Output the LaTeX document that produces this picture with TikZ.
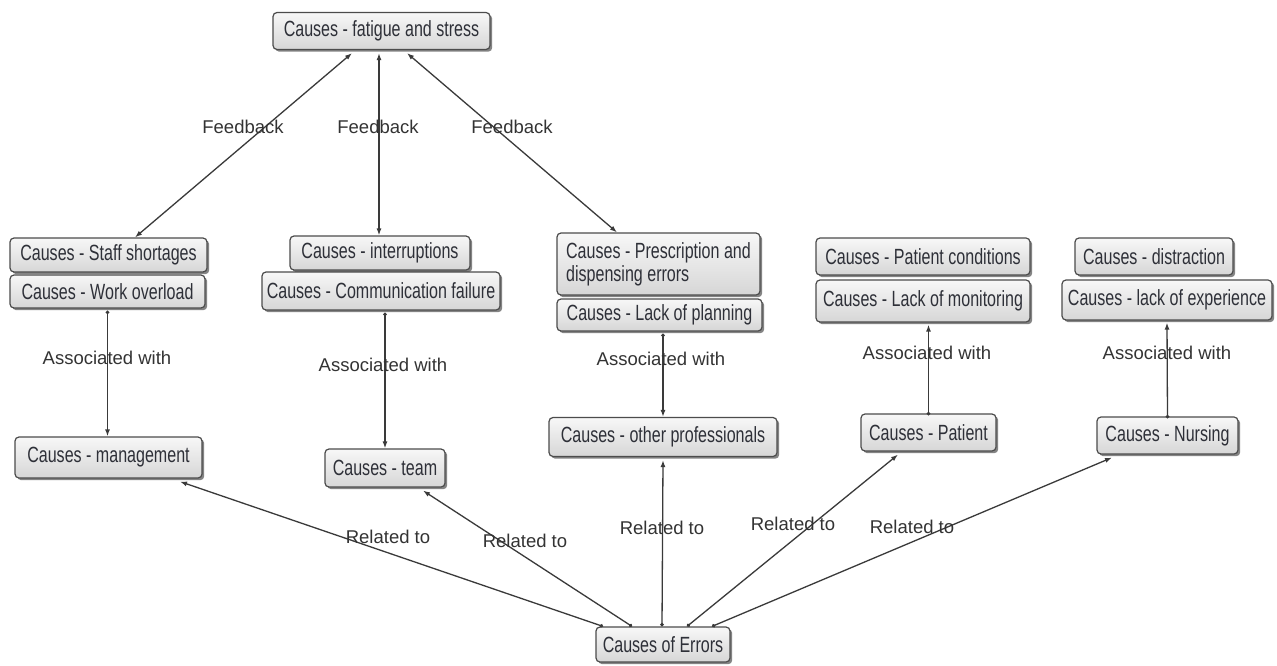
\documentclass[tikz,border=0pt]{standalone}
\usepackage{fontspec}
\setmainfont{Liberation Sans}[FakeStretch=0.73]
\newfontfamily\lblfont{Liberation Sans}
\usetikzlibrary{arrows.meta,shadows,calc}
\definecolor{boxtext}{HTML}{2E3038}
\definecolor{linecol}{HTML}{3A3A3A}
\definecolor{lbltext}{HTML}{333333}
\tikzset{
  cbox/.style={draw=black!70, line width=1.2pt, rounded corners=4pt,
    top color=black!3, bottom color=black!16,
    drop shadow={shadow xshift=2.2pt, shadow yshift=-2.2pt, fill=black!60, opacity=0.8},
    text=boxtext, inner sep=4pt,
    font=\fontsize{22}{23}\selectfont},
  lbl/.style={text=lbltext, font=\lblfont\fontsize{18.5}{20}\selectfont, inner sep=0pt},
  fb/.style={draw=linecol, line width=1.3pt, {Latex[length=7pt,width=5pt]}-{Latex[length=7pt,width=5pt]}},
  assoc/.style={draw=linecol, line width=1.3pt, {Circle[length=3.5pt]}-{Latex[length=7pt,width=5pt]}},
}
\begin{document}
\begin{tikzpicture}[x=1pt,y=-1pt]
\useasboundingbox[fill=white] (0,0) rectangle (1277,666);
% boxes
\node[cbox, minimum width=217pt, minimum height=37pt] (fat) at (381.5,31) {Causes - fatigue and stress};
\node[cbox, minimum width=197pt, minimum height=34pt] (staff) at (108.5,255) {Causes - Staff shortages};
\node[cbox, minimum width=195pt, minimum height=33pt] (work) at (107.5,291.5) {Causes - Work overload};
\node[cbox, minimum width=180pt, minimum height=34pt] (inter) at (380,253) {Causes - interruptions};
\node[cbox, minimum width=238pt, minimum height=38pt] (comm) at (381,291) {Causes - Communication failure};
\node[cbox, minimum width=203pt, minimum height=62pt, align=left] (presc) at (658.5,264) {Causes - Prescription and\\dispensing errors};
\node[cbox, minimum width=205pt, minimum height=32pt] (plan) at (659.5,315) {Causes - Lack of planning};
\node[cbox, minimum width=214pt, minimum height=37pt] (pcond) at (923,256.5) {Causes - Patient conditions};
\node[cbox, minimum width=214pt, minimum height=42pt] (mon) at (923,301) {Causes - Lack of monitoring};
\node[cbox, minimum width=158pt, minimum height=37pt] (dist) at (1154,256.5) {Causes - distraction};
\node[cbox, minimum width=210pt, minimum height=40pt] (exp) at (1167,300) {Causes - lack of experience};
\node[cbox, minimum width=187pt, minimum height=41pt] (mgmt) at (108.5,457.5) {Causes - management};
\node[cbox, minimum width=120pt, minimum height=38pt] (team) at (385,468) {Causes - team};
\node[cbox, minimum width=228pt, minimum height=39pt] (other) at (663,437) {Causes - other professionals};
\node[cbox, minimum width=135pt, minimum height=37pt] (patient) at (928.5,432.5) {Causes - Patient};
\node[cbox, minimum width=141pt, minimum height=37pt] (nurs) at (1167.5,435.5) {Causes - Nursing};
\node[cbox, minimum width=134pt, minimum height=35pt] (err) at (663,644.5) {Causes of Errors};
% feedback
\draw[fb] ([xshift=-29.5pt,yshift=-3pt]fat.south) -- ([xshift=26.5pt]staff.north);
\draw[fb] ([xshift=-2.5pt,yshift=-3pt]fat.south) -- ([xshift=-1pt]inter.north);
\draw[fb] ([xshift=25.5pt,yshift=-3pt]fat.south) -- ([xshift=-41.5pt]presc.north);
\node[lbl] (fb1) at (243,127) {Feedback};
\node[lbl] (fb2) at (378,127) {Feedback};
\node[lbl] (fb3) at (512,127) {Feedback};
% associated with
\draw[assoc] ([yshift=-2pt]work.south) -- (work.south |- mgmt.north);
\draw[assoc] ([xshift=4pt,yshift=-2pt]comm.south) -- (team.north);
\draw[assoc] ([yshift=-2pt]plan.south -| other.north) -- (other.north);
\draw[assoc] ([yshift=-2pt]patient.north) -- ([yshift=-2pt]patient.north |- mon.south);
\draw[assoc] ([yshift=-2pt]nurs.north) -- ([yshift=-2pt]exp.south);
\node[lbl] (as1) at (107,358) {Associated with};
\node[lbl] (as2) at (383,365) {Associated with};
\node[lbl] (as3) at (661,359) {Associated with};
\node[lbl] (as4) at (927,353) {Associated with};
\node[lbl] (as5) at (1167,353) {Associated with};
% related to
\draw[assoc] ([xshift=-60pt]err.north) -- ([xshift=71.5pt,yshift=-3pt]mgmt.south);
\draw[assoc] ([xshift=-31pt]err.north) -- ([xshift=38pt,yshift=-3pt]team.south);
\draw[assoc] ([xshift=-1pt]err.north) -- ([yshift=-3pt]other.south);
\draw[assoc] ([xshift=24pt]err.north) -- ([xshift=-30.5pt,yshift=-3pt]patient.south);
\draw[assoc] ([xshift=49pt]err.north) -- ([xshift=-55.5pt,yshift=-3pt]nurs.south);
\node[lbl] (rt1) at (388,537) {Related to};
\node[lbl] (rt2) at (525,541) {Related to};
\node[lbl] (rt3) at (662,528) {Related to};
\node[lbl] (rt4) at (793,524) {Related to};
\node[lbl] (rt5) at (912,527) {Related to};
\end{tikzpicture}
\end{document}
